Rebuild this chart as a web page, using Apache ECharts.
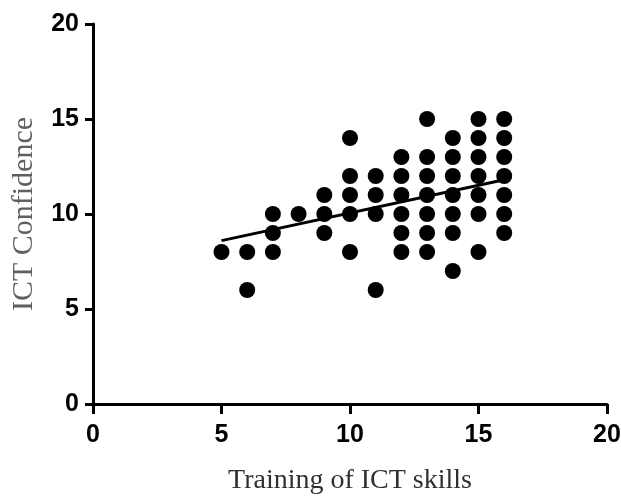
<!DOCTYPE html>
<html>
<head>
<meta charset="utf-8">
<script src="https://cdn.jsdelivr.net/npm/echarts@6/dist/echarts.min.js"></script>
<style>
html,body{margin:0;padding:0;background:#fff;}
#chart{width:621px;height:496px;}
</style>
</head>
<body>
<div id="chart"></div>
<script>
// Training of ICT skills (x) columns and ICT Confidence values observed in each column
var xValues = [5, 6, 7, 8, 9, 10, 11, 12, 13, 14, 15, 16];
var yByX = [
  [8],
  [8, 6],
  [10, 9, 8],
  [10],
  [11, 10, 9],
  [14, 12, 11, 10, 8],
  [12, 11, 10, 6],
  [13, 12, 11, 10, 9, 8],
  [15, 13, 12, 11, 10, 9, 8],
  [14, 13, 12, 11, 10, 9, 7],
  [15, 14, 13, 12, 11, 10, 8],
  [15, 14, 13, 12, 11, 10, 9]
];
// fitted line end points
var fitX = [5, 16];
var fitY = [8.6, 11.8];
var xTicks = [0, 5, 10, 15, 20];
var yTicks = [0, 5, 10, 15, 20];

var scatterData = [];
xValues.forEach(function (x, i) {
  yByX[i].forEach(function (y) { scatterData.push([x, y]); });
});
var lineData = fitX.map(function (x, i) { return [x, fitY[i]]; });

var tickFont = {
  fontFamily: '"Liberation Sans", Arial, sans-serif',
  fontWeight: 'bold',
  fontSize: 25,
  color: '#000'
};

var chart = echarts.init(document.getElementById('chart'));
chart.setOption({
  animation: false,
  grid: { left: 93, right: 14, top: 24, bottom: 92, outerBoundsMode: 'none', containLabel: false },
  xAxis: {
    type: 'value',
    min: xTicks[0], max: xTicks[xTicks.length - 1], interval: 5,
    name: 'Training of ICT skills',
    nameLocation: 'middle',
    nameGap: 63,
    nameTextStyle: { fontFamily: '"Liberation Serif", "Times New Roman", serif', fontSize: 28, color: '#303030' },
    axisLine: { show: true, lineStyle: { color: '#000', width: 3 } },
    axisTick: { show: true, length: 10, lineStyle: { color: '#000', width: 3 } },
    axisLabel: Object.assign({ margin: 19 }, tickFont),
    splitLine: { show: false }
  },
  yAxis: {
    type: 'value',
    min: yTicks[0], max: yTicks[yTicks.length - 1], interval: 5,
    name: 'ICT Confidence',
    nameLocation: 'middle',
    nameGap: 54,
    nameTextStyle: { fontFamily: '"Liberation Serif", "Times New Roman", serif', fontSize: 30, color: '#606060' },
    axisLine: { show: true, lineStyle: { color: '#000', width: 3 } },
    axisTick: { show: true, length: 8, lineStyle: { color: '#000', width: 3 } },
    axisLabel: Object.assign({ margin: 14 }, tickFont),
    splitLine: { show: false }
  },
  series: [
    {
      type: 'scatter',
      data: scatterData,
      symbol: 'circle',
      symbolSize: 16,
      itemStyle: { color: '#000', opacity: 1 },
      z: 2
    },
    {
      type: 'line',
      data: lineData,
      symbol: 'none',
      lineStyle: { color: '#000', width: 3 },
      z: 3
    }
  ]
});
</script>
</body>
</html>
